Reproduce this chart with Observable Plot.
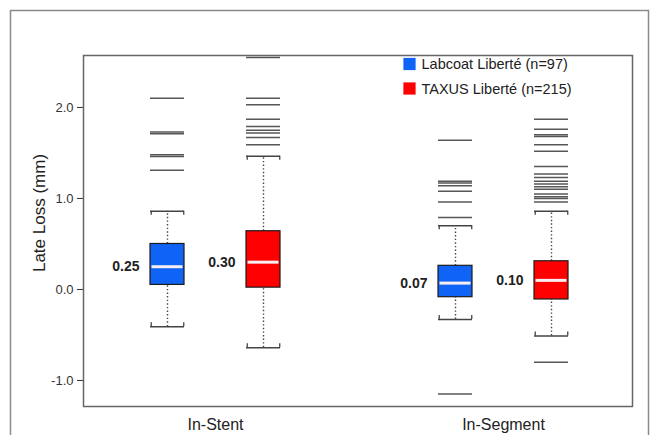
<!DOCTYPE html>
<html>
<head>
<meta charset="utf-8">
<script src="https://cdn.jsdelivr.net/npm/d3@7"></script>
<script src="https://cdn.jsdelivr.net/npm/@observablehq/plot@0.6"></script>
<style>
  html, body { margin: 0; padding: 0; background: #fff; overflow: hidden; }
  #chart svg { display: block; }
</style>
</head>
<body>
<div id="chart"></div>
<script>
// ---- data ----
const groups = ["In-Stent", "In-Segment"];
const series = ["Labcoat Liberté (n=97)", "TAXUS Liberté (n=215)"];
const yTicks = [-1, 0, 1, 2];
const yLabel = "Late Loss (mm)";

// per group: [In-Stent, In-Segment]
const labcoatLow    = [-0.41, -0.33];
const labcoatQ1     = [0.05, -0.085];
const labcoatMedian = [0.25, 0.07];
const labcoatQ3     = [0.50, 0.26];
const labcoatHigh   = [0.86, 0.70];

const taxusLow    = [-0.64, -0.51];
const taxusQ1     = [0.02, -0.11];
const taxusMedian = [0.30, 0.10];
const taxusQ3     = [0.64, 0.31];
const taxusHigh   = [1.465, 0.86];

const labcoatOutliersInStent  = [2.10, 1.73, 1.71, 1.48, 1.46, 1.31];
const labcoatOutliersInSegment = [1.64, 1.19, 1.17, 1.14, 1.08, 0.96, 0.79, -1.15];
const taxusOutliersInStent  = [2.55, 2.10, 2.03, 1.87, 1.79, 1.75, 1.72, 1.67, 1.59];
const taxusOutliersInSegment = [1.87, 1.76, 1.70, 1.68, 1.59, 1.52, 1.35, 1.27, 1.23, 1.19, 1.16, 1.13, 1.10, 1.05, 1.02, 1.00, 0.96, -0.80];

// ---- build tables ----
const statsBy = [
  {low: labcoatLow, q1: labcoatQ1, median: labcoatMedian, q3: labcoatQ3, high: labcoatHigh},
  {low: taxusLow, q1: taxusQ1, median: taxusMedian, q3: taxusQ3, high: taxusHigh}
];
const stats = [];
series.forEach((s, i) => groups.forEach((g, j) => {
  const t = statsBy[i];
  stats.push({series: s, group: g, low: t.low[j], q1: t.q1[j], median: t.median[j], q3: t.q3[j], high: t.high[j]});
}));
const outlierBy = [
  [labcoatOutliersInStent, labcoatOutliersInSegment],
  [taxusOutliersInStent, taxusOutliersInSegment]
];
const outliers = [];
series.forEach((s, i) => groups.forEach((g, j) => {
  outlierBy[i][j].forEach(v => outliers.push({series: s, group: g, value: v}));
}));

// ---- style ----
const BOX = 34;      // box width (px)
const SEP = 96;      // centre-to-centre distance of the two boxes in a group
const FONT = "'Liberation Sans', Arial, Helvetica, sans-serif";
const colors = ["#0f63f5", "#ff0000"];

const marks = [];
// outer panel border
marks.push(Plot.frame({stroke: "#8a8a8a", strokeWidth: 1.5, insetLeft: -73, insetTop: -45, insetRight: -16, insetBottom: -40}));
// plot frame
marks.push(Plot.frame({stroke: "#666", strokeWidth: 1.5}));

series.forEach((s, i) => {
  const data = stats.filter(d => d.series === s);
  const outs = outliers.filter(d => d.series === s);
  const c = (i === 0 ? -1 : 1) * SEP / 2;            // box centre offset from band centre
  const inL = i === 0 ? 0 : SEP;
  const inR = i === 0 ? SEP : 0;
  // dotted whiskers
  marks.push(Plot.ruleX(data, {x: "group", y1: "q3", y2: "high", dx: c, stroke: "#444", strokeWidth: 1.4, strokeDasharray: "1.4,2.2"}));
  marks.push(Plot.ruleX(data, {x: "group", y1: "low", y2: "q1", dx: c, stroke: "#444", strokeWidth: 1.4, strokeDasharray: "1.4,2.2"}));
  // caps
  marks.push(Plot.tickY(data, {x: "group", y: "high", insetLeft: inL, insetRight: inR, stroke: "#444", strokeWidth: 1.5}));
  marks.push(Plot.tickY(data, {x: "group", y: "low", insetLeft: inL, insetRight: inR, stroke: "#444", strokeWidth: 1.5}));
  [c - BOX / 2 + 0.75, c + BOX / 2 - 0.75].forEach(dx => {
    marks.push(Plot.ruleX(data, {x: "group", y1: "high", y2: "high", insetBottom: -4, dx, stroke: "#444", strokeWidth: 1.3}));
    marks.push(Plot.ruleX(data, {x: "group", y1: "low", y2: "low", insetTop: -4, dx, stroke: "#444", strokeWidth: 1.3}));
  });
  // outliers
  marks.push(Plot.tickY(outs, {x: "group", y: "value", insetLeft: inL, insetRight: inR, stroke: "#3a3a3a", strokeWidth: 1.5, strokeOpacity: 0.85}));
  // box
  marks.push(Plot.barY(data, {x: "group", y1: "q1", y2: "q3", fill: "series", stroke: "#1c1c1c", strokeWidth: 1.2, insetLeft: inL, insetRight: inR}));
  // median
  marks.push(Plot.tickY(data, {x: "group", y: "median", insetLeft: inL + 1.5, insetRight: inR + 1.5, stroke: "#f6eef0", strokeWidth: 3}));
  // median label
  marks.push(Plot.text(data, {x: "group", y: "median", text: d => d3.format(".2f")(d.median), dx: c - BOX / 2 - 11, textAnchor: "end", fontWeight: "bold", fontSize: 14, fill: "#222"}));
  // legend entry
  marks.push(Plot.dot([s], {frameAnchor: "top-left", dx: 326, dy: 8.5 + i * 24.5, fill: d => d, symbol: "square", r: 6.9}));
  marks.push(Plot.text([s], {frameAnchor: "top-left", dx: 338, dy: 9 + i * 24.5, text: d => d, textAnchor: "start", lineAnchor: "middle", fontSize: 14.5, fill: "#222"}));
});

// category labels
marks.push(Plot.text(groups, {x: d => d, frameAnchor: "bottom", dy: 18, lineAnchor: "middle", fontSize: 16, fill: "#222"}));
// y label
marks.push(Plot.text([yLabel], {frameAnchor: "left", textAnchor: "middle", lineAnchor: "middle", rotate: -90, dx: -44, dy: -18, fontSize: 17, fill: "#222"}));

const chart = Plot.plot({
  width: 656,
  height: 435,
  marginLeft: 83,
  marginRight: 24,
  marginTop: 55,
  marginBottom: 29,
  style: {fontFamily: FONT, fontSize: "13px", color: "#333", background: "#fff", overflow: "visible"},
  x: {type: "band", domain: groups, paddingInner: 0.549, paddingOuter: 0.227, align: 0.508, axis: null},
  y: {domain: [-1.286, 2.571], ticks: yTicks, tickFormat: d => d.toFixed(1), tickSize: 6, tickPadding: 4, label: null},
  color: {domain: series, range: colors},
  marks
});
document.getElementById("chart").appendChild(chart);
</script>
</body>
</html>
